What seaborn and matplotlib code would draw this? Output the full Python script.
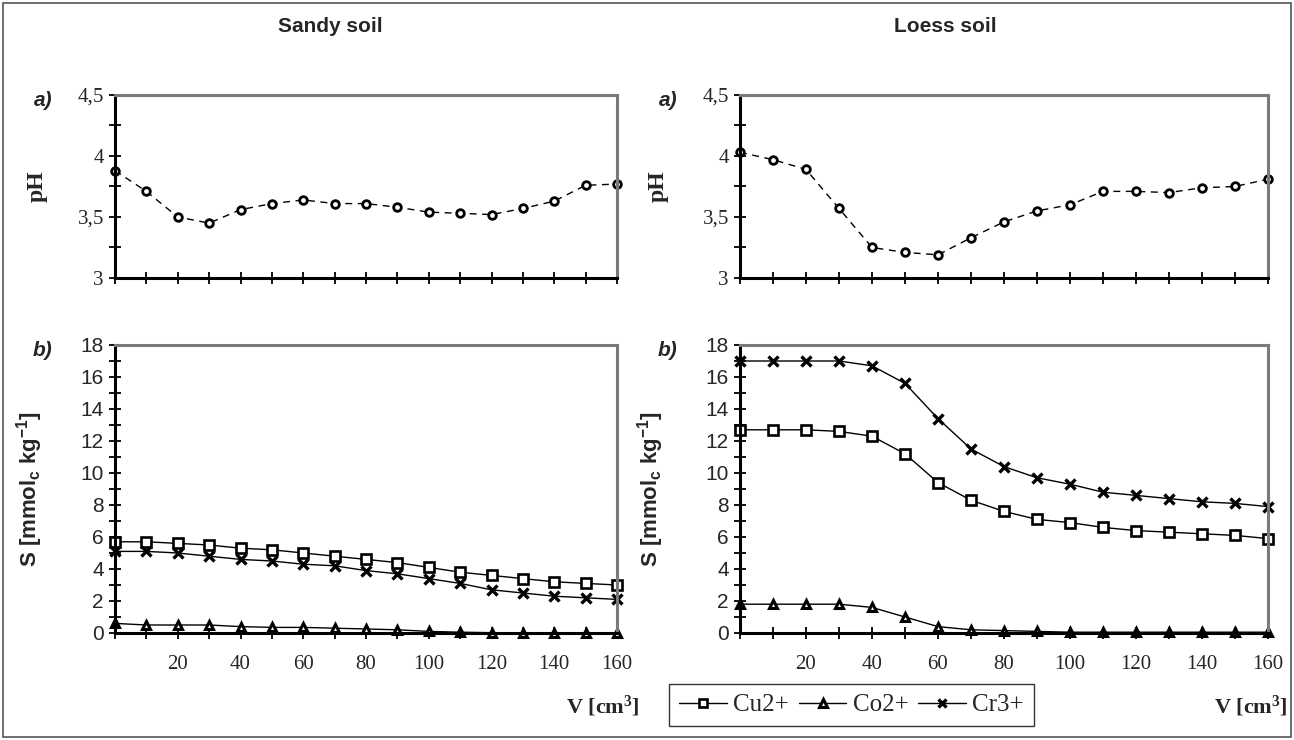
import numpy as np
import pandas as pd
import matplotlib
matplotlib.use("Agg")
import matplotlib.pyplot as plt
import seaborn as sns
from matplotlib.ticker import MultipleLocator, FuncFormatter
from matplotlib.patches import Rectangle

# Datos
volumen = [0, 10, 20, 30, 40, 50, 60, 70, 80, 90, 100, 110, 120, 130, 140, 150, 160]

ph_sandy = [3.88, 3.71, 3.50, 3.45, 3.56, 3.61, 3.64, 3.61, 3.61, 3.58, 3.54, 3.53, 3.52, 3.57, 3.63, 3.76, 3.77]
ph_loess = [4.03, 3.97, 3.89, 3.57, 3.25, 3.21, 3.19, 3.33, 3.46, 3.55, 3.60, 3.71, 3.71, 3.70, 3.74, 3.75, 3.81]

cu_sandy = [5.7, 5.7, 5.6, 5.5, 5.3, 5.2, 5.0, 4.8, 4.6, 4.4, 4.1, 3.8, 3.6, 3.4, 3.2, 3.1, 3.0]
co_sandy = [0.6, 0.5, 0.5, 0.5, 0.4, 0.35, 0.35, 0.3, 0.25, 0.2, 0.1, 0.05, 0.02, 0.0, 0.0, 0.0, 0.0]
cr_sandy = [5.1, 5.1, 5.0, 4.8, 4.6, 4.5, 4.3, 4.2, 3.9, 3.7, 3.4, 3.1, 2.7, 2.5, 2.3, 2.2, 2.1]

cu_loess = [12.7, 12.7, 12.7, 12.6, 12.3, 11.2, 9.4, 8.3, 7.6, 7.1, 6.9, 6.6, 6.4, 6.3, 6.2, 6.1, 5.9]
co_loess = [1.8, 1.8, 1.8, 1.8, 1.6, 1.0, 0.4, 0.2, 0.15, 0.1, 0.05, 0.05, 0.05, 0.05, 0.05, 0.05, 0.05]
cr_loess = [17.0, 17.0, 17.0, 17.0, 16.7, 15.6, 13.4, 11.5, 10.4, 9.7, 9.3, 8.8, 8.6, 8.4, 8.2, 8.1, 7.9]

iones = ["Cu2+", "Co2+", "Cr3+"]
marcadores = {"Cu2+": "s", "Co2+": "^", "Cr3+": "x"}

sns.set_theme(style="white")
plt.rcParams["font.family"] = ["Liberation Serif", "DejaVu Serif"]
plt.rcParams["mathtext.default"] = "regular"

SANS = "Liberation Sans"
SERIF = "Liberation Serif"

fig = plt.figure(figsize=(12.94, 7.4), dpi=100)
W, H = 1294.0, 740.0


def caja(x0, x1, ytop, ybot):
    return [x0 / W, 1 - ybot / H, (x1 - x0) / W, (ybot - ytop) / H]


ax_sa = fig.add_axes(caja(115, 617, 95, 278))
ax_sb = fig.add_axes(caja(115, 617, 345, 633))
ax_la = fig.add_axes(caja(740, 1268, 95, 278))
ax_lb = fig.add_axes(caja(740, 1268, 345, 633))


def estilo(ax, etiquetas_x):
    ax.set_xlim(0, 160)
    for s in ["left", "bottom"]:
        ax.spines[s].set_color("black")
        ax.spines[s].set_linewidth(2.2)
    for s in ["top", "right"]:
        ax.spines[s].set_color("#7a7a7a")
        ax.spines[s].set_linewidth(2.2)
    ax.xaxis.set_major_locator(MultipleLocator(10))
    ax.tick_params(axis="both", which="both", direction="inout", length=9, width=1.3,
                   color="black", bottom=True, left=True, top=False, right=False)
    ax.tick_params(axis="y", which="minor", length=9, width=1.3)
    if etiquetas_x:
        ax.xaxis.set_major_formatter(FuncFormatter(
            lambda v, p: f"{int(v)}" if (v > 0 and int(v) % 20 == 0) else ""))
        for t in ax.get_xticklabels():
            t.set_fontfamily(SERIF)
            t.set_fontsize(15)
        ax.tick_params(axis="x", pad=11)
    else:
        ax.set_xticklabels([])
    ax.set_xlabel("")
    ax.set_ylabel("")
    for ln in ax.lines:
        ln.set_clip_on(False)


def panel_ph(ax, valores):
    df = pd.DataFrame({"V": volumen, "pH": valores})
    sns.lineplot(data=df, x="V", y="pH", ax=ax, color="black", lw=1.0,
                 linestyle=(0, (5, 4)), marker="o", markersize=5.5,
                 markerfacecolor="white", markeredgecolor="black", markeredgewidth=2)
    ax.set_ylim(3, 4.5)
    ax.yaxis.set_major_locator(MultipleLocator(0.5))
    ax.yaxis.set_minor_locator(MultipleLocator(0.25))
    ax.yaxis.set_major_formatter(FuncFormatter(lambda v, p: f"{v:g}".replace(".", ",")))
    estilo(ax, False)
    for t in ax.get_yticklabels():
        t.set_fontfamily(SERIF)
        t.set_fontsize(15)
    ax.set_ylabel("pH", fontfamily=SERIF, fontweight="bold", fontsize=17)
    ax.yaxis.set_label_coords(-0.135, 0.5)


def panel_s(ax, cu, co, cr):
    df = pd.DataFrame({"V": volumen * 3,
                       "S": cu + co + cr,
                       "ion": ["Cu2+"] * 17 + ["Co2+"] * 17 + ["Cr3+"] * 17})
    for ion in iones:
        sub = df[df["ion"] == ion]
        if ion == "Cr3+":
            kw = dict(markersize=7, markeredgewidth=2.4, markeredgecolor="black")
        elif ion == "Co2+":
            kw = dict(markersize=6, markerfacecolor="white", markeredgecolor="black",
                      markeredgewidth=2.2)
        else:
            kw = dict(markersize=6.5, markerfacecolor="white", markeredgecolor="black",
                      markeredgewidth=1.9)
        sns.lineplot(data=sub, x="V", y="S", ax=ax, color="black", lw=1.0,
                     marker=marcadores[ion], label=ion, **kw)
    ax.set_ylim(0, 18)
    ax.yaxis.set_major_locator(MultipleLocator(2))
    ax.yaxis.set_minor_locator(MultipleLocator(1))
    estilo(ax, True)
    for t in ax.get_yticklabels():
        t.set_fontfamily(SANS)
        t.set_fontsize(15)
    ax.set_ylabel("S [mmol$_c$ kg$^{-1}$]", fontfamily=SANS, fontweight="bold", fontsize=16)
    ax.yaxis.set_label_coords(-0.14, 0.5)


panel_ph(ax_sa, ph_sandy)
panel_ph(ax_la, ph_loess)
panel_s(ax_sb, cu_sandy, co_sandy, cr_sandy)
panel_s(ax_lb, cu_loess, co_loess, cr_loess)

handles, labels = ax_lb.get_legend_handles_labels()
for ax in [ax_sb, ax_lb]:
    if ax.get_legend() is not None:
        ax.get_legend().remove()

leg = fig.legend(handles, labels, loc="center",
                 bbox_to_anchor=((665 + 1038) / 2 / W, 1 - 705 / H), ncol=3,
                 frameon=True, fancybox=False, edgecolor="black", handlelength=1.9,
                 columnspacing=0.4, handletextpad=0.25, borderpad=0.4, markerscale=0.85,
                 prop={"family": SERIF, "size": 18})
leg.get_frame().set_linewidth(1.0)

# Títulos y rótulos
fig.text(330 / W, 1 - 27 / H, "Sandy soil", fontfamily=SANS, fontweight="bold",
         fontsize=15, ha="center", va="center")
fig.text(945 / W, 1 - 27 / H, "Loess soil", fontfamily=SANS, fontweight="bold",
         fontsize=15, ha="center", va="center")
for x, y, t in [(43, 100, "a)"), (668, 100, "a)"), (43, 350, "b)"), (668, 350, "b)")]:
    fig.text(x / W, 1 - y / H, t, fontfamily=SANS, fontweight="bold", fontstyle="italic",
             fontsize=15, ha="center", va="center")
for x in [640, 1288]:
    fig.text(x / W, 1 - 706 / H, "V [cm$^3$]", fontfamily=SERIF, fontweight="bold",
             fontsize=16, ha="right", va="center")

# Marco exterior
fig.patches.append(Rectangle((3 / W, 3 / H), 1 - 6 / W, 1 - 6 / H, transform=fig.transFigure,
                             fill=False, edgecolor="#555555", lw=1.2))

fig.savefig("out.png", dpi=100)
